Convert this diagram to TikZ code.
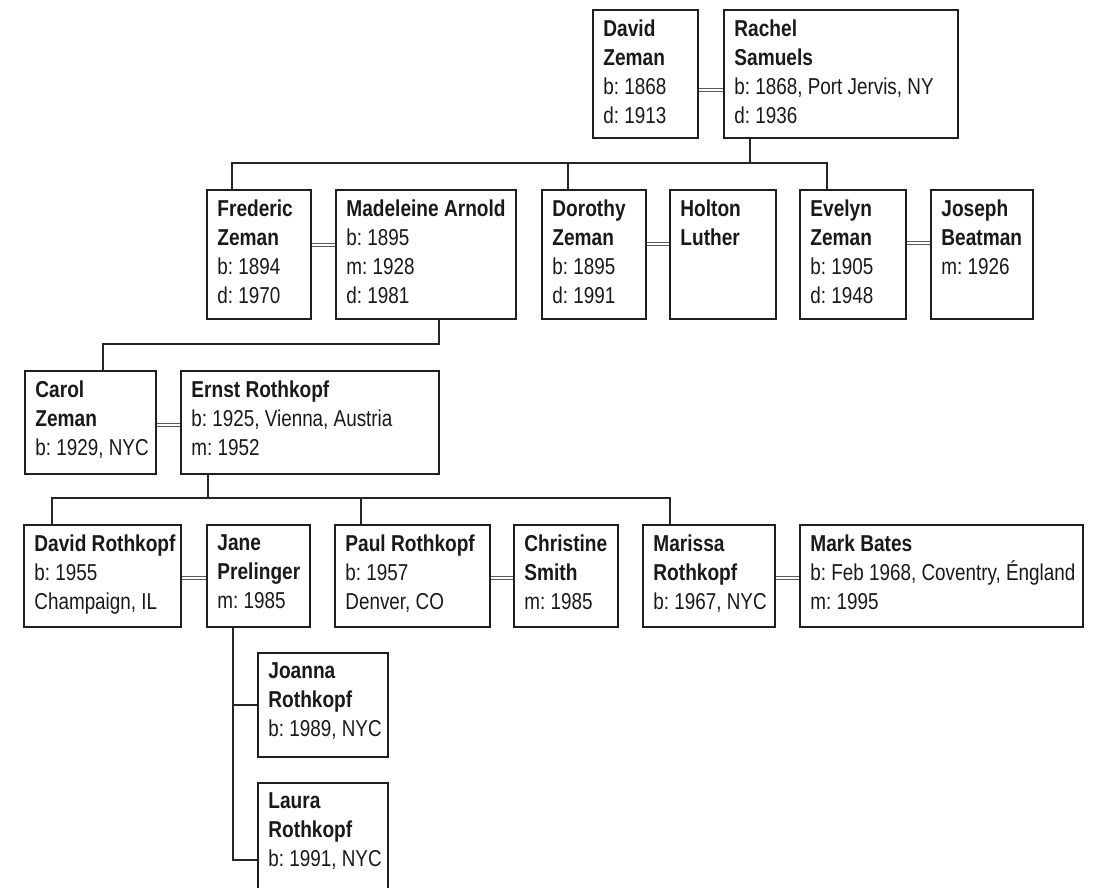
\documentclass[tikz,border=0pt]{standalone}
\usepackage{fontspec}
\setmainfont[FakeStretch=0.82,BoldFeatures={FakeStretch=0.83}]{Liberation Sans}
\usetikzlibrary{fit,calc}
\tikzset{
  box/.style={draw=black!88, line width=1.5pt, inner sep=0pt},
  txt/.style={anchor=north west, inner sep=0pt, align=left, text=black!90,
    font=\frenchspacing\fontsize{23}{29}\selectfont},
  tree/.style={draw=black!85, line width=1.3pt},
  marry/.style={draw=black!65, line width=1pt, double=white, double distance=1.5pt}
}
\newcommand\pbox[6]{%
  \node[box, fit={(#2,#3) (#4,#5)}] (#1) {};
  \node[txt] (#1-t) at ([shift={(11pt,-10pt)}]#1.north west) {#6};
}
\begin{document}
\begin{tikzpicture}[x=1pt,y=-1pt]
\useasboundingbox (0,0) rectangle (1094,887);
\clip (0,0) rectangle (1094,887);
% row 1
\pbox{dz}{593}{10}{698}{138}{\textbf{David}\\\textbf{Zeman}\\b: 1868\\d: 1913}
\pbox{rs}{724}{10}{958}{138}{\textbf{Rachel}\\\textbf{Samuels}\\b: 1868, Port Jervis, NY\\d: 1936}
% row 2
\pbox{fz}{207}{190}{311}{319}{\textbf{Frederic}\\\textbf{Zeman}\\b: 1894\\d: 1970}
\pbox{ma}{336}{190}{516}{319}{\textbf{Madeleine Arnold}\\b: 1895\\m: 1928\\d: 1981}
\pbox{dor}{542}{190}{646}{319}{\textbf{Dorothy}\\\textbf{Zeman}\\b: 1895\\d: 1991}
\pbox{hl}{670}{190}{776}{319}{\textbf{Holton}\\\textbf{Luther}}
\pbox{ez}{800}{190}{906}{319}{\textbf{Evelyn}\\\textbf{Zeman}\\b: 1905\\d: 1948}
\pbox{jb}{931}{190}{1033}{319}{\textbf{Joseph}\\\textbf{Beatman}\\m: 1926}
% row 3
\pbox{cz}{25}{371}{156}{474}{\textbf{Carol}\\\textbf{Zeman}\\b: 1929, NYC}
\pbox{er}{181}{371}{439}{474}{\textbf{Ernst Rothkopf}\\b: 1925, Vienna, Austria\\m: 1952}
% row 4
\pbox{dr}{24}{525}{181}{627}{\textbf{David Rothkopf}\\b: 1955\\Champaign, IL}
\pbox{jp}{207}{525}{310}{627}{\textbf{Jane}\\\textbf{Prelinger}\\m: 1985}
\pbox{pr}{335}{525}{490}{627}{\textbf{Paul Rothkopf}\\b: 1957\\Denver, CO}
\pbox{cs}{514}{525}{618}{627}{\textbf{Christine}\\\textbf{Smith}\\m: 1985}
\pbox{mr}{643}{525}{775}{627}{\textbf{Marissa}\\\textbf{Rothkopf}\\b: 1967, NYC}
\pbox{mb}{800}{525}{1083}{627}{\textbf{Mark Bates}\\b: Feb 1968, Coventry, Éngland\\m: 1995}
% row 5
\pbox{jo}{258}{653}{388}{757}{\textbf{Joanna}\\\textbf{Rothkopf}\\b: 1989, NYC}
\pbox{lr}{258}{783}{388}{905}{\textbf{Laura}\\\textbf{Rothkopf}\\b: 1991, NYC}
% marriages
\draw[marry] (dz.east |- 0,90) -- (rs.west |- 0,90);
\draw[marry] (fz.east |- 0,245) -- (ma.west |- 0,245);
\draw[marry] (dor.east |- 0,244) -- (hl.west |- 0,244);
\draw[marry] (ez.east |- 0,243) -- (jb.west |- 0,243);
\draw[marry] (cz.east |- 0,425) -- (er.west |- 0,425);
\draw[marry] (dr.east |- 0,578) -- (jp.west |- 0,578);
\draw[marry] (pr.east |- 0,578) -- (cs.west |- 0,578);
\draw[marry] (mr.east |- 0,578) -- (mb.west |- 0,578);
% descent lines
\coordinate (j1) at (750,163);
\draw[tree] (rs.south -| j1) -- (j1);
\draw[tree] (fz.north -| 232,0) |- (j1) -| (ez.north -| 827,0);
\draw[tree] (dor.north -| 568,0) -- (568,163);
\coordinate (j2) at (439,344);
\draw[tree] (ma.south -| j2) -- (j2) -| (cz.north -| 103,0);
\coordinate (j3) at (208,498);
\draw[tree] (er.south -| j3) -- (j3);
\draw[tree] (dr.north -| 52,0) |- (j3) -| (mr.north -| 670,0);
\draw[tree] (pr.north -| 361,0) -- (361,498);
\coordinate (j4) at (233,860);
\draw[tree] (jp.south -| j4) -- (j4) -- (lr.west |- j4);
\draw[tree] (233,705) -- (jo.west |- 0,705);
\end{tikzpicture}
\end{document}
